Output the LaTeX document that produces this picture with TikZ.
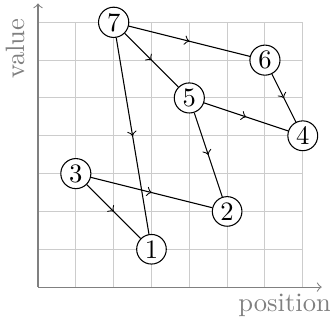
\documentclass[tikz,border=0pt]{standalone}
\usetikzlibrary{decorations.markings}

\begin{document}
\begin{tikzpicture}[x=0.5cm,y=0.5cm,>=to,
  pt/.style={draw,circle,inner sep=1pt,fill=white},
  midarrow/.style={postaction={decorate},
    decoration={markings,mark=at position 0.5 with {\arrow{>}}}}]
  \useasboundingbox (-1.005,-0.926) rectangle (7.72,7.59);
  \draw[gray!40,step=0.5cm] (0,0) grid (7,7);

  % axes
  \coordinate (o) at (0,0);
  \coordinate (xend) at (7.5,0);
  \coordinate (yend) at (0,7.5);
  \draw[gray,->] (o) -- (xend);
  \draw[gray,->] (o) -- (yend);
  \node[gray,anchor=north,inner sep=2.5pt] (xlab) at (6.52,0) {position};
  \node[gray,rotate=90,anchor=south east] (ylab) at (-0.1,7.35) {value};

  \node[pt] (n1) at (3,1) {1};
  \node[pt] (n2) at (5,2) {2};
  \node[pt] (n3) at (1,3) {3};
  \node[pt] (n4) at (7,4) {4};
  \node[pt] (n5) at (4,5) {5};
  \node[pt] (n6) at (6,6) {6};
  \node[pt] (n7) at (2,7) {7};

  \draw[midarrow] (n7) -- (n6);
  \draw[midarrow] (n7) -- (n5);
  \draw[midarrow] (n7) -- (n1);
  \draw[midarrow] (n6) -- (n4);
  \draw[midarrow] (n5) -- (n4);
  \draw[midarrow] (n5) -- (n2);
  \draw[midarrow] (n3) -- (n2);
  \draw[midarrow] (n3) -- (n1);
\end{tikzpicture}
\end{document}
